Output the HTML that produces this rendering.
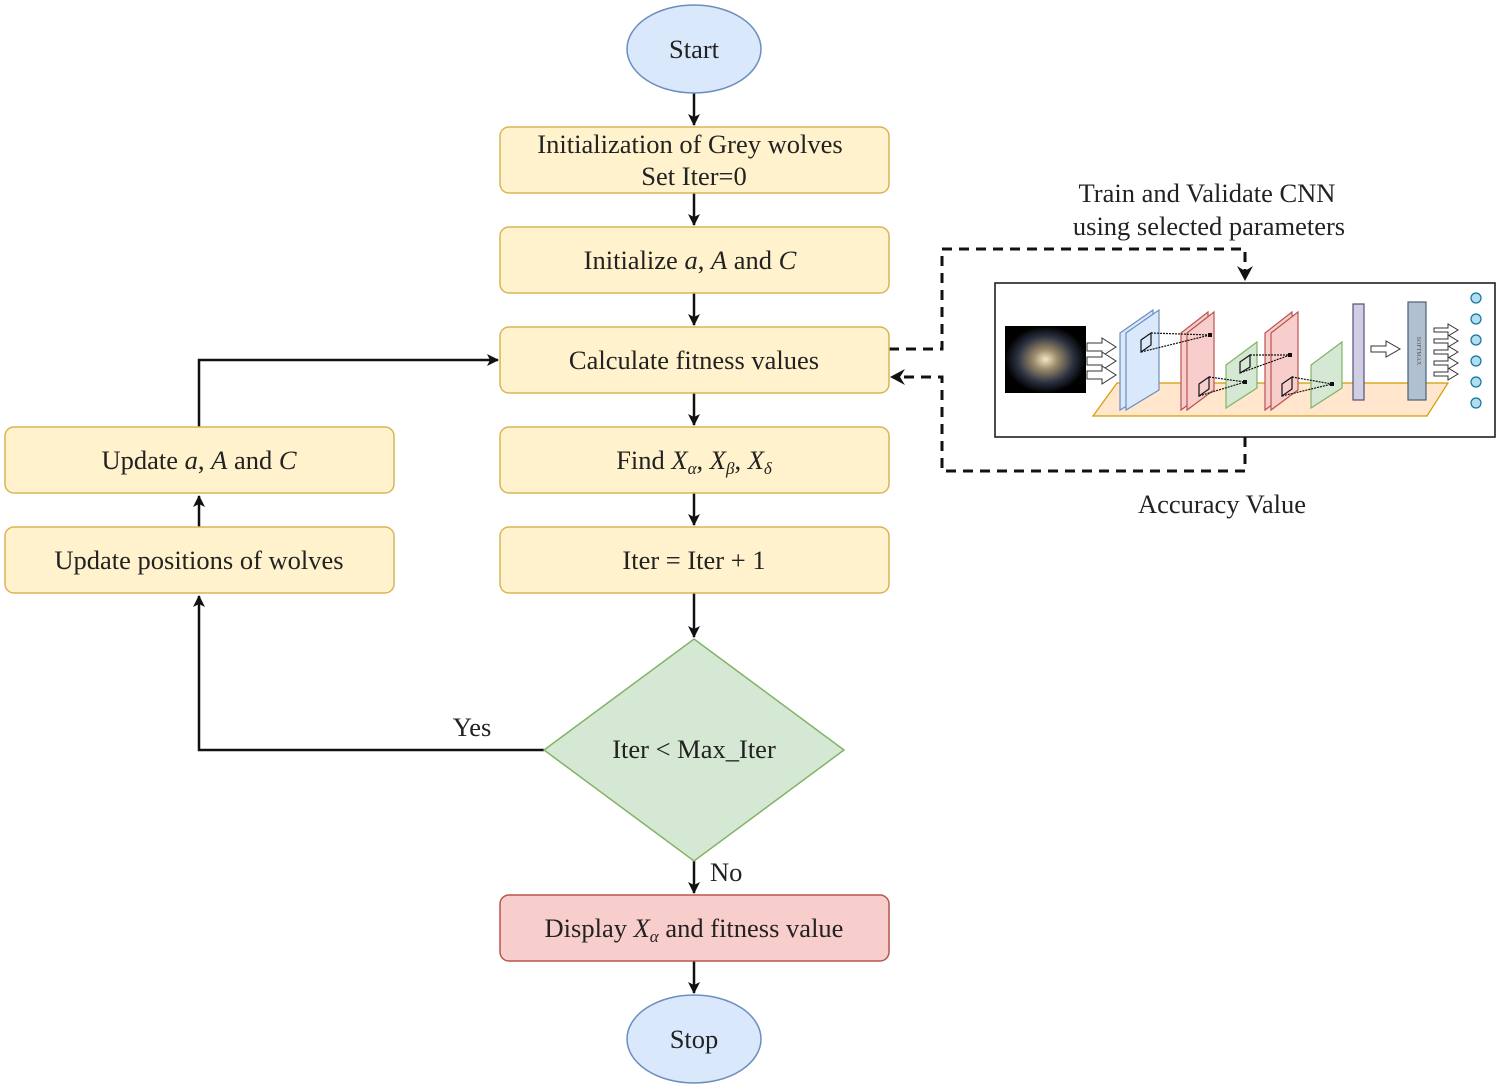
<!DOCTYPE html>
<html><head><meta charset="utf-8"><style>
html,body{margin:0;padding:0;background:#fff;}
svg{display:block;}
text{font-family:"Liberation Serif",serif;font-size:26.5px;fill:#222;}
</style></head><body>
<svg width="1500" height="1088" viewBox="0 0 1500 1088" xmlns="http://www.w3.org/2000/svg">
<defs>
<marker id="ar" markerWidth="12" markerHeight="12" refX="11" refY="6" orient="auto" markerUnits="userSpaceOnUse"><path d="M0,0 L12,6 L0,12 L3,6 z" fill="#111"/></marker>
<radialGradient id="gal" cx="50%" cy="50%" r="50%"><stop offset="0" stop-color="#f3e8c8"/><stop offset="0.3" stop-color="#9a8a6a"/><stop offset="0.7" stop-color="#2a3040"/><stop offset="1" stop-color="#000"/></radialGradient>
</defs>
<g stroke="#111" stroke-width="2.5" fill="none">
<line x1="694" y1="93" x2="694" y2="125" marker-end="url(#ar)"/>
<line x1="694" y1="193" x2="694" y2="225" marker-end="url(#ar)"/>
<line x1="694" y1="293" x2="694" y2="325" marker-end="url(#ar)"/>
<line x1="694" y1="393" x2="694" y2="425" marker-end="url(#ar)"/>
<line x1="694" y1="493" x2="694" y2="525" marker-end="url(#ar)"/>
<line x1="694" y1="593" x2="694" y2="637" marker-end="url(#ar)"/>
<line x1="694" y1="861" x2="694" y2="893" marker-end="url(#ar)"/>
<line x1="694" y1="961" x2="694" y2="993" marker-end="url(#ar)"/>
<polyline points="544,750 199,750 199,596" marker-end="url(#ar)"/>
<line x1="199" y1="527" x2="199" y2="496" marker-end="url(#ar)"/>
<polyline points="199,427 199,360 498,360" marker-end="url(#ar)"/>
</g>
<g stroke="#111" stroke-width="3" fill="none" stroke-dasharray="10,7">
<polyline points="889,349 942,349 942,249 1245,249 1245,272"/>
<polyline points="1245,437 1245,471 942,471 942,377 902,377"/>
</g>
<path d="M1237,266 L1245,281 L1253,266 L1245,271 z" fill="#111"/>
<path d="M905,369 L890,377 L905,385 L900,377 z" fill="#111"/>

<ellipse cx="694" cy="49" rx="67" ry="44" fill="#dae8fc" stroke="#6c8ebf" stroke-width="1.5"/>
<text x="694" y="58" text-anchor="middle">Start</text>
<ellipse cx="694" cy="1039" rx="67" ry="44" fill="#dae8fc" stroke="#6c8ebf" stroke-width="1.5"/>
<text x="694" y="1048" text-anchor="middle">Stop</text>

<g fill="#fff2cc" stroke="#d6b656" stroke-width="1.5">
<rect x="500" y="127" width="389" height="66" rx="9"/>
<rect x="500" y="227" width="389" height="66" rx="9"/>
<rect x="500" y="327" width="389" height="66" rx="9"/>
<rect x="500" y="427" width="389" height="66" rx="9"/>
<rect x="500" y="527" width="389" height="66" rx="9"/>
<rect x="5" y="427" width="389" height="66" rx="9"/>
<rect x="5" y="527" width="389" height="66" rx="9"/>
</g>
<rect x="500" y="895" width="389" height="66" rx="9" fill="#f8cecc" stroke="#b85450" stroke-width="1.5"/>
<polygon points="694,639 844,750 694,861 544,750" fill="#d5e8d4" stroke="#82b366" stroke-width="1.5"/>

<text x="690" y="153" text-anchor="middle">Initialization of Grey wolves</text>
<text x="694" y="185" text-anchor="middle">Set Iter=0</text>
<text x="690" y="269" text-anchor="middle">Initialize <tspan font-style="italic">a</tspan>, <tspan font-style="italic">A</tspan> and <tspan font-style="italic">C</tspan></text>
<text x="694" y="369" text-anchor="middle">Calculate fitness values</text>
<text x="694" y="469" text-anchor="middle">Find <tspan font-style="italic">X</tspan><tspan font-style="italic" style="font-size:17px" dy="5">α</tspan><tspan dy="-5">, </tspan><tspan font-style="italic">X</tspan><tspan font-style="italic" style="font-size:17px" dy="5">β</tspan><tspan dy="-5">, </tspan><tspan font-style="italic">X</tspan><tspan font-style="italic" style="font-size:17px" dy="5">δ</tspan></text>
<text x="694" y="569" text-anchor="middle">Iter = Iter + 1</text>
<text x="199" y="469" text-anchor="middle">Update <tspan font-style="italic">a</tspan>, <tspan font-style="italic">A</tspan> and <tspan font-style="italic">C</tspan></text>
<text x="199" y="569" text-anchor="middle">Update positions of wolves</text>
<text x="694" y="758" text-anchor="middle">Iter &lt; Max_Iter</text>
<text x="694" y="937" text-anchor="middle">Display <tspan font-style="italic">X</tspan><tspan font-style="italic" style="font-size:17px" dy="5">α</tspan><tspan dy="-5"> and fitness value</tspan></text>
<text x="472" y="736" text-anchor="middle">Yes</text>
<text x="710" y="881">No</text>
<text x="1207" y="202" text-anchor="middle">Train and Validate CNN</text>
<text x="1209" y="235" text-anchor="middle">using selected parameters</text>
<text x="1222" y="513" text-anchor="middle">Accuracy Value</text>

<!-- CNN panel -->
<rect x="995" y="283" width="500" height="154" fill="#fff" stroke="#111" stroke-width="1.5"/>
<polygon points="1093,416 1117,383 1448,383 1427,416" fill="#ffe6cc" stroke="#d79b00" stroke-width="1.2"/>
<rect x="1005" y="326" width="81" height="67" fill="url(#gal)"/>
<g fill="#fff" stroke="#333" stroke-width="1">
<path d="M1087,343 h15 v-5 l14,9 l-14,9 v-5 h-15z"/>
<path d="M1087,357 h15 v-5 l14,9 l-14,9 v-5 h-15z"/>
<path d="M1087,371 h15 v-5 l14,9 l-14,9 v-5 h-15z"/>
<path d="M1371,346 h15 v-5 l14,8 l-14,8 v-5 h-15z"/>
<path d="M1434,328 h14 v-4 l10,6 l-10,6 v-4 h-14z"/>
<path d="M1434,339 h14 v-4 l10,6 l-10,6 v-4 h-14z"/>
<path d="M1434,350 h14 v-4 l10,6 l-10,6 v-4 h-14z"/>
<path d="M1434,361 h14 v-4 l10,6 l-10,6 v-4 h-14z"/>
<path d="M1434,372 h14 v-4 l10,6 l-10,6 v-4 h-14z"/>
</g>
<g stroke-width="1.2">
<polygon points="1120,333 1153,310 1153,390 1120,410" fill="#dae8fc" stroke="#6c8ebf"/>
<polygon points="1126,333 1159,310 1159,390 1126,410" fill="#dae8fc" stroke="#6c8ebf"/>
<polygon points="1181,333 1208,312 1208,390 1181,410" fill="#f8cecc" stroke="#b85450"/>
<polygon points="1187,333 1214,312 1214,390 1187,410" fill="#f8cecc" stroke="#b85450"/>
<polygon points="1226,365 1257,342 1257,388 1226,408" fill="#d5e8d4" stroke="#82b366"/>
<polygon points="1265,333 1292,312 1292,390 1265,410" fill="#f8cecc" stroke="#b85450"/>
<polygon points="1271,333 1298,312 1298,390 1271,410" fill="#f8cecc" stroke="#b85450"/>
<polygon points="1311,365 1342,342 1342,388 1311,408" fill="#d5e8d4" stroke="#82b366"/>
<rect x="1353" y="304" width="11" height="96" fill="#d0cee2" stroke="#56517e"/>
<rect x="1408" y="302" width="18" height="98" fill="#b0c0d0" stroke="#4a6078"/>
</g>
<text x="1417" y="351" style="font-size:6px;fill:#555" text-anchor="middle" transform="rotate(90 1417 351)">SOFTMAX</text>
<g stroke="#111" stroke-width="1.2" fill="none">
<polygon points="1141,340 1151,333 1151,345 1141,352"/>
<polygon points="1199,384 1209,377 1209,389 1199,396"/>
<polygon points="1240,362 1250,355 1250,367 1240,373"/>
<polygon points="1282,384 1292,377 1292,389 1282,396"/>
<path d="M1151,333 L1210,335 M1141,352 L1210,335" stroke-dasharray="2,1"/>
<path d="M1209,377 L1245,382 M1199,396 L1245,382" stroke-dasharray="2,1"/>
<path d="M1250,355 L1290,355 M1240,373 L1290,355" stroke-dasharray="2,1"/>
<path d="M1292,377 L1332,384 M1282,396 L1332,384" stroke-dasharray="2,1"/>
</g>
<g fill="#111"><rect x="1208" y="333" width="4" height="4"/><rect x="1243" y="380" width="4" height="4"/><rect x="1288" y="353" width="4" height="4"/><rect x="1330" y="382" width="4" height="4"/></g>
<g fill="#b1ddf0" stroke="#10739e" stroke-width="1.2">
<circle cx="1476" cy="298" r="5"/><circle cx="1476" cy="319" r="5"/><circle cx="1476" cy="340" r="5"/><circle cx="1476" cy="361" r="5"/><circle cx="1476" cy="382" r="5"/><circle cx="1476" cy="403" r="5"/>
</g>
</svg>
</body></html>
